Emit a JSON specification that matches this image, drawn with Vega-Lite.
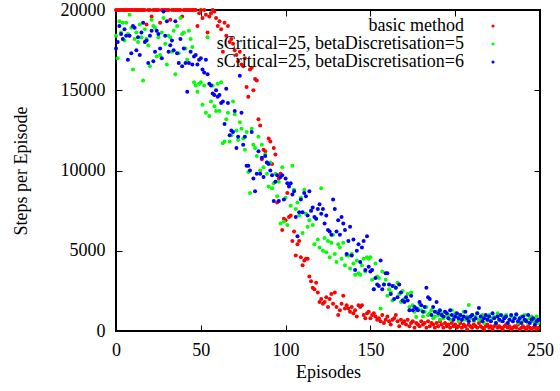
{
"$schema": "https://vega.github.io/schema/vega-lite/v6.json",
"width": 424, "height": 321,
"autosize": {"type": "none"},
"padding": {"left": 116, "top": 10, "right": 20, "bottom": 60},
"background": "white",
"config": {
  "view": {"stroke": "black", "strokeWidth": 2},
  "font": "Liberation Serif",
  "axis": {"domain": false, "grid": false, "tickColor": "black", "tickWidth": 1, "labelColor": "black", "titleColor": "black", "labelFont": "Liberation Serif", "titleFont": "Liberation Serif", "labelFontSize": 18, "titleFontSize": 18, "titleFontWeight": "normal"},
  "legend": {"orient": "none", "legendX": 368, "legendY": 7, "padding": 0}
},
"datasets": {
"pts": [
{"e":0,"m":"r","s":20000},{"e":1,"m":"r","s":20000},{"e":2,"m":"r","s":20000},{"e":3,"m":"r","s":20000},{"e":4,"m":"r","s":20000},{"e":5,"m":"r","s":20000},{"e":6,"m":"r","s":20000},{"e":7,"m":"r","s":20000},{"e":8,"m":"r","s":20000},{"e":9,"m":"r","s":20000},
{"e":10,"m":"r","s":20000},{"e":11,"m":"r","s":20000},{"e":12,"m":"r","s":20000},{"e":13,"m":"r","s":20000},{"e":14,"m":"r","s":20000},{"e":15,"m":"r","s":20000},{"e":16,"m":"r","s":20000},{"e":17,"m":"r","s":20000},{"e":18,"m":"r","s":19100},{"e":19,"m":"r","s":20000},
{"e":20,"m":"r","s":20000},{"e":21,"m":"r","s":19600},{"e":22,"m":"r","s":20000},{"e":23,"m":"r","s":20000},{"e":24,"m":"r","s":20000},{"e":25,"m":"r","s":20000},{"e":26,"m":"r","s":19200},{"e":27,"m":"r","s":20000},{"e":28,"m":"r","s":20000},{"e":29,"m":"r","s":20000},
{"e":30,"m":"r","s":20000},{"e":31,"m":"r","s":20000},{"e":32,"m":"r","s":19400},{"e":33,"m":"r","s":20000},{"e":34,"m":"r","s":20000},{"e":35,"m":"r","s":20000},{"e":36,"m":"r","s":20000},{"e":37,"m":"r","s":20000},{"e":38,"m":"r","s":20000},{"e":39,"m":"r","s":19600},
{"e":40,"m":"r","s":20000},{"e":41,"m":"r","s":20000},{"e":42,"m":"r","s":20000},{"e":43,"m":"r","s":20000},{"e":44,"m":"r","s":20000},{"e":45,"m":"r","s":20000},{"e":46,"m":"r","s":20000},{"e":47,"m":"r","s":20000},{"e":48,"m":"r","s":19000},{"e":49,"m":"r","s":19800},
{"e":50,"m":"r","s":20000},{"e":51,"m":"r","s":19500},{"e":52,"m":"r","s":20000},{"e":53,"m":"r","s":19700},{"e":54,"m":"r","s":18600},{"e":55,"m":"r","s":19600},{"e":56,"m":"r","s":19800},{"e":57,"m":"r","s":20000},{"e":58,"m":"r","s":19900},{"e":59,"m":"r","s":19500},
{"e":60,"m":"r","s":19000},{"e":61,"m":"r","s":19300},{"e":62,"m":"r","s":18800},{"e":63,"m":"r","s":17400},{"e":64,"m":"r","s":19200},{"e":65,"m":"r","s":18400},{"e":66,"m":"r","s":19000},{"e":67,"m":"r","s":18000},{"e":68,"m":"r","s":18200},{"e":69,"m":"r","s":17900},
{"e":70,"m":"r","s":17500},{"e":71,"m":"r","s":17200},{"e":72,"m":"r","s":16800},{"e":73,"m":"r","s":17400},{"e":74,"m":"r","s":16600},{"e":75,"m":"r","s":16500},{"e":76,"m":"r","s":17000},{"e":77,"m":"r","s":15200},{"e":78,"m":"r","s":14600},{"e":79,"m":"r","s":16300},
{"e":80,"m":"r","s":16400},{"e":81,"m":"r","s":15000},{"e":82,"m":"r","s":15700},{"e":83,"m":"r","s":15600},{"e":84,"m":"r","s":13200},{"e":85,"m":"r","s":12800},{"e":86,"m":"r","s":10700},{"e":87,"m":"r","s":11300},{"e":88,"m":"r","s":11200},{"e":89,"m":"r","s":10500},
{"e":90,"m":"r","s":12000},{"e":91,"m":"r","s":11800},{"e":92,"m":"r","s":10400},{"e":93,"m":"r","s":11400},{"e":94,"m":"r","s":11000},{"e":95,"m":"r","s":8000},{"e":96,"m":"r","s":9500},{"e":97,"m":"r","s":9800},{"e":98,"m":"r","s":6300},{"e":99,"m":"r","s":7000},
{"e":100,"m":"r","s":6900},{"e":101,"m":"r","s":8600},{"e":102,"m":"r","s":7100},{"e":103,"m":"r","s":7200},{"e":104,"m":"r","s":5600},{"e":105,"m":"r","s":6200},{"e":106,"m":"r","s":4700},{"e":107,"m":"r","s":5400},{"e":108,"m":"r","s":5600},{"e":109,"m":"r","s":4600},
{"e":110,"m":"r","s":4100},{"e":111,"m":"r","s":4400},{"e":112,"m":"r","s":4500},{"e":113,"m":"r","s":4500},{"e":114,"m":"r","s":3400},{"e":115,"m":"r","s":3100},{"e":116,"m":"r","s":2700},{"e":117,"m":"r","s":2600},{"e":118,"m":"r","s":3000},{"e":119,"m":"r","s":2400},
{"e":120,"m":"r","s":1800},{"e":121,"m":"r","s":2000},{"e":122,"m":"r","s":1700},{"e":123,"m":"r","s":1800},{"e":124,"m":"r","s":2100},{"e":125,"m":"r","s":1500},{"e":126,"m":"r","s":2000},{"e":127,"m":"r","s":2300},{"e":128,"m":"r","s":1700},{"e":129,"m":"r","s":2400},
{"e":130,"m":"r","s":1500},{"e":131,"m":"r","s":1000},{"e":132,"m":"r","s":1300},{"e":133,"m":"r","s":1700},{"e":134,"m":"r","s":2200},{"e":135,"m":"r","s":1400},{"e":136,"m":"r","s":1600},{"e":137,"m":"r","s":1400},{"e":138,"m":"r","s":1200},{"e":139,"m":"r","s":1500},
{"e":140,"m":"r","s":1100},{"e":141,"m":"r","s":1300},{"e":142,"m":"r","s":900},{"e":143,"m":"r","s":1600},{"e":144,"m":"r","s":1500},{"e":145,"m":"r","s":1600},{"e":146,"m":"r","s":1000},{"e":147,"m":"r","s":800},{"e":148,"m":"r","s":1100},{"e":149,"m":"r","s":1200},
{"e":150,"m":"r","s":800},{"e":151,"m":"r","s":1000},{"e":152,"m":"r","s":1100},{"e":153,"m":"r","s":900},{"e":154,"m":"r","s":700},{"e":155,"m":"r","s":800},{"e":156,"m":"r","s":600},{"e":157,"m":"r","s":1000},{"e":158,"m":"r","s":500},{"e":159,"m":"r","s":700},
{"e":160,"m":"r","s":900},{"e":161,"m":"r","s":600},{"e":162,"m":"r","s":400},{"e":163,"m":"r","s":700},{"e":164,"m":"r","s":800},{"e":165,"m":"r","s":1000},{"e":166,"m":"r","s":600},{"e":167,"m":"r","s":300},{"e":168,"m":"r","s":700},{"e":169,"m":"r","s":500},
{"e":170,"m":"r","s":600},{"e":171,"m":"r","s":400},{"e":172,"m":"r","s":700},{"e":173,"m":"r","s":300},{"e":174,"m":"r","s":500},{"e":175,"m":"r","s":600},{"e":176,"m":"r","s":200},{"e":177,"m":"r","s":500},{"e":178,"m":"r","s":400},{"e":179,"m":"r","s":300},
{"e":180,"m":"r","s":600},{"e":181,"m":"r","s":400},{"e":182,"m":"r","s":500},{"e":183,"m":"r","s":200},{"e":184,"m":"r","s":600},{"e":185,"m":"r","s":300},{"e":186,"m":"r","s":500},{"e":187,"m":"r","s":400},{"e":188,"m":"r","s":200},{"e":189,"m":"r","s":500},
{"e":190,"m":"r","s":300},{"e":191,"m":"r","s":600},{"e":192,"m":"r","s":400},{"e":193,"m":"r","s":200},{"e":194,"m":"r","s":500},{"e":195,"m":"r","s":300},{"e":196,"m":"r","s":400},{"e":197,"m":"r","s":200},{"e":198,"m":"r","s":500},{"e":199,"m":"r","s":300},
{"e":200,"m":"r","s":400},{"e":201,"m":"r","s":200},{"e":202,"m":"r","s":300},{"e":203,"m":"r","s":500},{"e":204,"m":"r","s":200},{"e":205,"m":"r","s":400},{"e":206,"m":"r","s":300},{"e":207,"m":"r","s":100},{"e":208,"m":"r","s":400},{"e":209,"m":"r","s":300},
{"e":210,"m":"r","s":200},{"e":211,"m":"r","s":400},{"e":212,"m":"r","s":300},{"e":213,"m":"r","s":200},{"e":214,"m":"r","s":500},{"e":215,"m":"r","s":300},{"e":216,"m":"r","s":200},{"e":217,"m":"r","s":100},{"e":218,"m":"r","s":300},{"e":219,"m":"r","s":400},
{"e":220,"m":"r","s":200},{"e":221,"m":"r","s":300},{"e":222,"m":"r","s":100},{"e":223,"m":"r","s":300},{"e":224,"m":"r","s":400},{"e":225,"m":"r","s":200},{"e":226,"m":"r","s":300},{"e":227,"m":"r","s":200},{"e":228,"m":"r","s":100},{"e":229,"m":"r","s":300},
{"e":230,"m":"r","s":400},{"e":231,"m":"r","s":200},{"e":232,"m":"r","s":300},{"e":233,"m":"r","s":100},{"e":234,"m":"r","s":200},{"e":235,"m":"r","s":300},{"e":236,"m":"r","s":200},{"e":237,"m":"r","s":400},{"e":238,"m":"r","s":100},{"e":239,"m":"r","s":200},
{"e":240,"m":"r","s":300},{"e":241,"m":"r","s":200},{"e":242,"m":"r","s":100},{"e":243,"m":"r","s":300},{"e":244,"m":"r","s":200},{"e":245,"m":"r","s":100},{"e":246,"m":"r","s":200},{"e":247,"m":"r","s":300},{"e":248,"m":"r","s":100},{"e":249,"m":"r","s":200},
{"e":0,"m":"g","s":18400},{"e":1,"m":"g","s":17000},{"e":2,"m":"g","s":19300},{"e":3,"m":"g","s":18600},{"e":4,"m":"g","s":19200},{"e":5,"m":"g","s":18100},{"e":6,"m":"g","s":19200},{"e":7,"m":"g","s":18500},{"e":8,"m":"g","s":19700},{"e":9,"m":"g","s":18900},
{"e":10,"m":"g","s":16300},{"e":11,"m":"g","s":18200},{"e":12,"m":"g","s":18600},{"e":13,"m":"g","s":18000},{"e":14,"m":"g","s":19100},{"e":15,"m":"g","s":18300},{"e":16,"m":"g","s":15600},{"e":17,"m":"g","s":18800},{"e":18,"m":"g","s":18200},{"e":19,"m":"g","s":17800},
{"e":20,"m":"g","s":16500},{"e":21,"m":"g","s":19400},{"e":22,"m":"g","s":19000},{"e":23,"m":"g","s":18900},{"e":24,"m":"g","s":17100},{"e":25,"m":"g","s":18300},{"e":26,"m":"g","s":17200},{"e":27,"m":"g","s":18600},{"e":28,"m":"g","s":19500},{"e":29,"m":"g","s":17900},
{"e":30,"m":"g","s":16600},{"e":31,"m":"g","s":18400},{"e":32,"m":"g","s":18300},{"e":33,"m":"g","s":17400},{"e":34,"m":"g","s":18700},{"e":35,"m":"g","s":16000},{"e":36,"m":"g","s":19000},{"e":37,"m":"g","s":17300},{"e":38,"m":"g","s":19500},{"e":39,"m":"g","s":18500},
{"e":40,"m":"g","s":18600},{"e":41,"m":"g","s":17600},{"e":42,"m":"g","s":16900},{"e":43,"m":"g","s":18700},{"e":44,"m":"g","s":18200},{"e":45,"m":"g","s":17700},{"e":46,"m":"g","s":15500},{"e":47,"m":"g","s":15300},{"e":48,"m":"g","s":14900},{"e":49,"m":"g","s":15400},
{"e":50,"m":"g","s":15500},{"e":51,"m":"g","s":14100},{"e":52,"m":"g","s":15300},{"e":53,"m":"g","s":13600},{"e":54,"m":"g","s":18300},{"e":55,"m":"g","s":13400},{"e":56,"m":"g","s":14300},{"e":57,"m":"g","s":15300},{"e":58,"m":"g","s":14000},{"e":59,"m":"g","s":13700},
{"e":60,"m":"g","s":15400},{"e":61,"m":"g","s":13700},{"e":62,"m":"g","s":15500},{"e":63,"m":"g","s":11700},{"e":64,"m":"g","s":11800},{"e":65,"m":"g","s":13200},{"e":66,"m":"g","s":13600},{"e":67,"m":"g","s":11800},{"e":68,"m":"g","s":12200},{"e":69,"m":"g","s":14300},
{"e":70,"m":"g","s":13500},{"e":71,"m":"g","s":12500},{"e":72,"m":"g","s":11900},{"e":73,"m":"g","s":13000},{"e":74,"m":"g","s":12600},{"e":75,"m":"g","s":12000},{"e":76,"m":"g","s":11300},{"e":77,"m":"g","s":12400},{"e":78,"m":"g","s":9900},{"e":79,"m":"g","s":8600},
{"e":80,"m":"g","s":12600},{"e":81,"m":"g","s":11600},{"e":82,"m":"g","s":11400},{"e":83,"m":"g","s":10900},{"e":84,"m":"g","s":12100},{"e":85,"m":"g","s":10000},{"e":86,"m":"g","s":11600},{"e":87,"m":"g","s":10200},{"e":88,"m":"g","s":11000},{"e":89,"m":"g","s":9800},
{"e":90,"m":"g","s":9000},{"e":91,"m":"g","s":10500},{"e":92,"m":"g","s":8900},{"e":93,"m":"g","s":9200},{"e":94,"m":"g","s":9800},{"e":95,"m":"g","s":8400},{"e":96,"m":"g","s":9300},{"e":97,"m":"g","s":6700},{"e":98,"m":"g","s":10200},{"e":99,"m":"g","s":6800},
{"e":100,"m":"g","s":8300},{"e":101,"m":"g","s":6600},{"e":102,"m":"g","s":9100},{"e":103,"m":"g","s":7800},{"e":104,"m":"g","s":10300},{"e":105,"m":"g","s":8800},{"e":106,"m":"g","s":7600},{"e":107,"m":"g","s":8000},{"e":108,"m":"g","s":7200},{"e":109,"m":"g","s":8300},
{"e":110,"m":"g","s":6100},{"e":111,"m":"g","s":8800},{"e":112,"m":"g","s":7300},{"e":113,"m":"g","s":6500},{"e":114,"m":"g","s":6900},{"e":115,"m":"g","s":7500},{"e":116,"m":"g","s":6600},{"e":117,"m":"g","s":5400},{"e":118,"m":"g","s":7000},{"e":119,"m":"g","s":5700},
{"e":120,"m":"g","s":5200},{"e":121,"m":"g","s":8900},{"e":122,"m":"g","s":5000},{"e":123,"m":"g","s":5800},{"e":124,"m":"g","s":4900},{"e":125,"m":"g","s":5600},{"e":126,"m":"g","s":4600},{"e":127,"m":"g","s":5500},{"e":128,"m":"g","s":6000},{"e":129,"m":"g","s":4800},
{"e":130,"m":"g","s":4300},{"e":131,"m":"g","s":5400},{"e":132,"m":"g","s":5200},{"e":133,"m":"g","s":4500},{"e":134,"m":"g","s":5500},{"e":135,"m":"g","s":4100},{"e":136,"m":"g","s":4700},{"e":137,"m":"g","s":4700},{"e":138,"m":"g","s":3900},{"e":139,"m":"g","s":4800},
{"e":140,"m":"g","s":4200},{"e":141,"m":"g","s":3500},{"e":142,"m":"g","s":4400},{"e":143,"m":"g","s":3600},{"e":144,"m":"g","s":3500},{"e":145,"m":"g","s":4100},{"e":146,"m":"g","s":4500},{"e":147,"m":"g","s":3700},{"e":148,"m":"g","s":4600},{"e":149,"m":"g","s":4500},
{"e":150,"m":"g","s":4600},{"e":151,"m":"g","s":3200},{"e":152,"m":"g","s":2600},{"e":153,"m":"g","s":4200},{"e":154,"m":"g","s":3400},{"e":155,"m":"g","s":3300},{"e":156,"m":"g","s":1400},{"e":157,"m":"g","s":3700},{"e":158,"m":"g","s":2900},{"e":159,"m":"g","s":3200},
{"e":160,"m":"g","s":2200},{"e":161,"m":"g","s":2600},{"e":162,"m":"g","s":2400},{"e":163,"m":"g","s":1900},{"e":164,"m":"g","s":2800},{"e":165,"m":"g","s":2700},{"e":166,"m":"g","s":3000},{"e":167,"m":"g","s":2300},{"e":168,"m":"g","s":1800},{"e":169,"m":"g","s":2500},
{"e":170,"m":"g","s":2000},{"e":171,"m":"g","s":1900},{"e":172,"m":"g","s":2300},{"e":173,"m":"g","s":1500},{"e":174,"m":"g","s":2400},{"e":175,"m":"g","s":1600},{"e":176,"m":"g","s":1200},{"e":177,"m":"g","s":870},{"e":178,"m":"g","s":1400},{"e":179,"m":"g","s":1700},
{"e":180,"m":"g","s":1300},{"e":181,"m":"g","s":900},{"e":182,"m":"g","s":1200},{"e":183,"m":"g","s":1500},{"e":184,"m":"g","s":1000},{"e":185,"m":"g","s":1100},{"e":186,"m":"g","s":1300},{"e":187,"m":"g","s":800},{"e":188,"m":"g","s":900},{"e":189,"m":"g","s":1200},
{"e":190,"m":"g","s":1000},{"e":191,"m":"g","s":700},{"e":192,"m":"g","s":1100},{"e":193,"m":"g","s":800},{"e":194,"m":"g","s":1200},{"e":195,"m":"g","s":900},{"e":196,"m":"g","s":1000},{"e":197,"m":"g","s":700},{"e":198,"m":"g","s":1300},{"e":199,"m":"g","s":800},
{"e":200,"m":"g","s":1100},{"e":201,"m":"g","s":900},{"e":202,"m":"g","s":600},{"e":203,"m":"g","s":1000},{"e":204,"m":"g","s":800},{"e":205,"m":"g","s":1200},{"e":206,"m":"g","s":700},{"e":207,"m":"g","s":900},{"e":208,"m":"g","s":1620},{"e":209,"m":"g","s":800},
{"e":210,"m":"g","s":1000},{"e":211,"m":"g","s":600},{"e":212,"m":"g","s":900},{"e":213,"m":"g","s":1100},{"e":214,"m":"g","s":700},{"e":215,"m":"g","s":800},{"e":216,"m":"g","s":1000},{"e":217,"m":"g","s":500},{"e":218,"m":"g","s":900},{"e":219,"m":"g","s":700},
{"e":220,"m":"g","s":1000},{"e":221,"m":"g","s":600},{"e":222,"m":"g","s":800},{"e":223,"m":"g","s":900},{"e":224,"m":"g","s":500},{"e":225,"m":"g","s":1100},{"e":226,"m":"g","s":700},{"e":227,"m":"g","s":600},{"e":228,"m":"g","s":900},{"e":229,"m":"g","s":800},
{"e":230,"m":"g","s":1000},{"e":231,"m":"g","s":500},{"e":232,"m":"g","s":700},{"e":233,"m":"g","s":900},{"e":234,"m":"g","s":600},{"e":235,"m":"g","s":800},{"e":236,"m":"g","s":1000},{"e":237,"m":"g","s":500},{"e":238,"m":"g","s":700},{"e":239,"m":"g","s":900},
{"e":240,"m":"g","s":600},{"e":241,"m":"g","s":1000},{"e":242,"m":"g","s":700},{"e":243,"m":"g","s":500},{"e":244,"m":"g","s":800},{"e":245,"m":"g","s":900},{"e":246,"m":"g","s":600},{"e":247,"m":"g","s":700},{"e":248,"m":"g","s":900},{"e":249,"m":"g","s":500},
{"e":0,"m":"b","s":17600},{"e":1,"m":"b","s":18000},{"e":2,"m":"b","s":19000},{"e":3,"m":"b","s":18500},{"e":4,"m":"b","s":18200},{"e":5,"m":"b","s":18800},{"e":6,"m":"b","s":18400},{"e":7,"m":"b","s":16900},{"e":8,"m":"b","s":18400},{"e":9,"m":"b","s":17300},
{"e":10,"m":"b","s":19000},{"e":11,"m":"b","s":18900},{"e":12,"m":"b","s":17500},{"e":13,"m":"b","s":18300},{"e":14,"m":"b","s":17200},{"e":15,"m":"b","s":18600},{"e":16,"m":"b","s":19200},{"e":17,"m":"b","s":18000},{"e":18,"m":"b","s":18100},{"e":19,"m":"b","s":16700},
{"e":20,"m":"b","s":18400},{"e":21,"m":"b","s":18700},{"e":22,"m":"b","s":16800},{"e":23,"m":"b","s":17400},{"e":24,"m":"b","s":18700},{"e":25,"m":"b","s":18500},{"e":26,"m":"b","s":17600},{"e":27,"m":"b","s":17000},{"e":28,"m":"b","s":19900},{"e":29,"m":"b","s":18400},
{"e":30,"m":"b","s":19300},{"e":31,"m":"b","s":17400},{"e":32,"m":"b","s":17800},{"e":33,"m":"b","s":18100},{"e":34,"m":"b","s":17500},{"e":35,"m":"b","s":19300},{"e":36,"m":"b","s":17300},{"e":37,"m":"b","s":16700},{"e":38,"m":"b","s":18200},{"e":39,"m":"b","s":16500},
{"e":40,"m":"b","s":17600},{"e":41,"m":"b","s":16700},{"e":42,"m":"b","s":14900},{"e":43,"m":"b","s":16700},{"e":44,"m":"b","s":17400},{"e":45,"m":"b","s":16600},{"e":46,"m":"b","s":17100},{"e":47,"m":"b","s":17200},{"e":48,"m":"b","s":16600},{"e":49,"m":"b","s":16900},
{"e":50,"m":"b","s":17000},{"e":51,"m":"b","s":16300},{"e":52,"m":"b","s":16100},{"e":53,"m":"b","s":16900},{"e":54,"m":"b","s":16000},{"e":55,"m":"b","s":15400},{"e":56,"m":"b","s":15300},{"e":57,"m":"b","s":14800},{"e":58,"m":"b","s":14700},{"e":59,"m":"b","s":15000},
{"e":60,"m":"b","s":14600},{"e":61,"m":"b","s":14700},{"e":62,"m":"b","s":14200},{"e":63,"m":"b","s":14300},{"e":64,"m":"b","s":12900},{"e":65,"m":"b","s":15100},{"e":66,"m":"b","s":14200},{"e":67,"m":"b","s":12200},{"e":68,"m":"b","s":12500},{"e":69,"m":"b","s":12400},
{"e":70,"m":"b","s":13700},{"e":71,"m":"b","s":11400},{"e":72,"m":"b","s":12100},{"e":73,"m":"b","s":15900},{"e":74,"m":"b","s":13600},{"e":75,"m":"b","s":11600},{"e":76,"m":"b","s":12100},{"e":77,"m":"b","s":10300},{"e":78,"m":"b","s":10300},{"e":79,"m":"b","s":10000},
{"e":80,"m":"b","s":12400},{"e":81,"m":"b","s":9500},{"e":82,"m":"b","s":8700},{"e":83,"m":"b","s":9800},{"e":84,"m":"b","s":11200},{"e":85,"m":"b","s":9800},{"e":86,"m":"b","s":10800},{"e":87,"m":"b","s":9600},{"e":88,"m":"b","s":10900},{"e":89,"m":"b","s":10500},
{"e":90,"m":"b","s":10400},{"e":91,"m":"b","s":10000},{"e":92,"m":"b","s":9700},{"e":93,"m":"b","s":8100},{"e":94,"m":"b","s":9300},{"e":95,"m":"b","s":9700},{"e":96,"m":"b","s":8100},{"e":97,"m":"b","s":9600},{"e":98,"m":"b","s":9700},{"e":99,"m":"b","s":8200},
{"e":100,"m":"b","s":9500},{"e":101,"m":"b","s":9200},{"e":102,"m":"b","s":9000},{"e":103,"m":"b","s":9200},{"e":104,"m":"b","s":8500},{"e":105,"m":"b","s":8700},{"e":106,"m":"b","s":7100},{"e":107,"m":"b","s":5900},{"e":108,"m":"b","s":7400},{"e":109,"m":"b","s":8200},
{"e":110,"m":"b","s":7400},{"e":111,"m":"b","s":8600},{"e":112,"m":"b","s":8400},{"e":113,"m":"b","s":7200},{"e":114,"m":"b","s":8700},{"e":115,"m":"b","s":7500},{"e":116,"m":"b","s":7700},{"e":117,"m":"b","s":7100},{"e":118,"m":"b","s":7000},{"e":119,"m":"b","s":7600},
{"e":120,"m":"b","s":7900},{"e":121,"m":"b","s":7300},{"e":122,"m":"b","s":7600},{"e":123,"m":"b","s":6700},{"e":124,"m":"b","s":7200},{"e":125,"m":"b","s":6300},{"e":126,"m":"b","s":6200},{"e":127,"m":"b","s":6000},{"e":128,"m":"b","s":8200},{"e":129,"m":"b","s":7600},
{"e":130,"m":"b","s":6200},{"e":131,"m":"b","s":6900},{"e":132,"m":"b","s":6000},{"e":133,"m":"b","s":7100},{"e":134,"m":"b","s":6700},{"e":135,"m":"b","s":6300},{"e":136,"m":"b","s":4800},{"e":137,"m":"b","s":5600},{"e":138,"m":"b","s":6500},{"e":139,"m":"b","s":4700},
{"e":140,"m":"b","s":5700},{"e":141,"m":"b","s":3800},{"e":142,"m":"b","s":5000},{"e":143,"m":"b","s":5400},{"e":144,"m":"b","s":4300},{"e":145,"m":"b","s":5200},{"e":146,"m":"b","s":5600},{"e":147,"m":"b","s":3800},{"e":148,"m":"b","s":5900},{"e":149,"m":"b","s":4000},
{"e":150,"m":"b","s":3700},{"e":151,"m":"b","s":3800},{"e":152,"m":"b","s":2600},{"e":153,"m":"b","s":3300},{"e":154,"m":"b","s":2900},{"e":155,"m":"b","s":2800},{"e":156,"m":"b","s":4400},{"e":157,"m":"b","s":2600},{"e":158,"m":"b","s":2900},{"e":159,"m":"b","s":3600},
{"e":160,"m":"b","s":3600},{"e":161,"m":"b","s":2900},{"e":162,"m":"b","s":2300},{"e":163,"m":"b","s":2800},{"e":164,"m":"b","s":2000},{"e":165,"m":"b","s":2700},{"e":166,"m":"b","s":2100},{"e":167,"m":"b","s":2900},{"e":168,"m":"b","s":2400},{"e":169,"m":"b","s":1900},
{"e":170,"m":"b","s":1800},{"e":171,"m":"b","s":2100},{"e":172,"m":"b","s":1900},{"e":173,"m":"b","s":1300},{"e":174,"m":"b","s":2200},{"e":175,"m":"b","s":1300},{"e":176,"m":"b","s":1500},{"e":177,"m":"b","s":1400},{"e":178,"m":"b","s":1300},{"e":179,"m":"b","s":1800},
{"e":180,"m":"b","s":1600},{"e":181,"m":"b","s":1200},{"e":182,"m":"b","s":1500},{"e":183,"m":"b","s":2700},{"e":184,"m":"b","s":2100},{"e":185,"m":"b","s":2000},{"e":186,"m":"b","s":1000},{"e":187,"m":"b","s":1500},{"e":188,"m":"b","s":1200},{"e":189,"m":"b","s":1800},
{"e":190,"m":"b","s":1100},{"e":191,"m":"b","s":1300},{"e":192,"m":"b","s":1000},{"e":193,"m":"b","s":900},{"e":194,"m":"b","s":1200},{"e":195,"m":"b","s":1100},{"e":196,"m":"b","s":800},{"e":197,"m":"b","s":1300},{"e":198,"m":"b","s":1000},{"e":199,"m":"b","s":700},
{"e":200,"m":"b","s":900},{"e":201,"m":"b","s":1100},{"e":202,"m":"b","s":800},{"e":203,"m":"b","s":1000},{"e":204,"m":"b","s":700},{"e":205,"m":"b","s":900},{"e":206,"m":"b","s":1200},{"e":207,"m":"b","s":800},{"e":208,"m":"b","s":600},{"e":209,"m":"b","s":900},
{"e":210,"m":"b","s":1000},{"e":211,"m":"b","s":700},{"e":212,"m":"b","s":800},{"e":213,"m":"b","s":1100},{"e":214,"m":"b","s":1430},{"e":215,"m":"b","s":900},{"e":216,"m":"b","s":600},{"e":217,"m":"b","s":800},{"e":218,"m":"b","s":1000},{"e":219,"m":"b","s":700},
{"e":220,"m":"b","s":900},{"e":221,"m":"b","s":600},{"e":222,"m":"b","s":1100},{"e":223,"m":"b","s":800},{"e":224,"m":"b","s":500},{"e":225,"m":"b","s":900},{"e":226,"m":"b","s":700},{"e":227,"m":"b","s":1000},{"e":228,"m":"b","s":600},{"e":229,"m":"b","s":800},
{"e":230,"m":"b","s":900},{"e":231,"m":"b","s":500},{"e":232,"m":"b","s":700},{"e":233,"m":"b","s":1000},{"e":234,"m":"b","s":600},{"e":235,"m":"b","s":800},{"e":236,"m":"b","s":1050},{"e":237,"m":"b","s":600},{"e":238,"m":"b","s":800},{"e":239,"m":"b","s":500},
{"e":240,"m":"b","s":900},{"e":241,"m":"b","s":700},{"e":242,"m":"b","s":600},{"e":243,"m":"b","s":1000},{"e":244,"m":"b","s":500},{"e":245,"m":"b","s":700},{"e":246,"m":"b","s":800},{"e":247,"m":"b","s":400},{"e":248,"m":"b","s":600},{"e":249,"m":"b","s":700}
]
},
"data": {"name": "pts"},
"resolve": {"axis": {"x": "independent", "y": "independent"}},
"layer": [
  {
    "mark": {"type": "point", "filled": true, "shape": "circle", "size": 16, "opacity": 1, "strokeWidth": 0},
    "encoding": {
      "x": {"field": "e", "type": "quantitative", "scale": {"domain": [0, 250], "nice": false, "zero": false},
            "axis": {"orient": "bottom", "values": [0, 50, 100, 150, 200, 250], "tickSize": -6, "labelPadding": 16, "labelFlush": false, "title": "Episodes", "titlePadding": 4}},
      "y": {"field": "s", "type": "quantitative", "scale": {"domain": [0, 20000], "nice": false},
            "axis": {"orient": "left", "values": [0, 5000, 10000, 15000, 20000], "format": "d", "tickSize": -6, "labelPadding": 17, "title": "Steps per Episode", "titlePadding": 30}},
      "color": {"field": "m", "type": "nominal",
                "scale": {"domain": ["r", "g", "b"], "range": ["#ff0000", "#00ff00", "#0000ff"]},
                "legend": {"title": null, "labelExpr": "datum.value == 'r' ? 'basic method' : datum.value == 'g' ? 'sCritical=25, betaDiscretisation=5' : 'sCritical=25, betaDiscretisation=6'",
                           "labelFont": "Liberation Serif", "labelFontSize": 18, "labelColor": "black", "labelAlign": "right", "labelOffset": -38, "labelLimit": 0,
                           "symbolType": "circle", "symbolSize": 10, "symbolStrokeWidth": 0, "rowPadding": 0}}
    }
  },
  {
    "mark": {"type": "point", "opacity": 0},
    "encoding": {
      "x": {"field": "e", "type": "quantitative", "scale": {"domain": [0, 250], "nice": false, "zero": false},
            "axis": {"orient": "top", "values": [0, 50, 100, 150, 200, 250], "tickSize": -6, "labels": false, "title": null}},
      "y": {"field": "s", "type": "quantitative", "scale": {"domain": [0, 20000], "nice": false},
            "axis": {"orient": "right", "values": [0, 5000, 10000, 15000, 20000], "tickSize": -6, "labels": false, "title": null}}
    }
  }
]
}
